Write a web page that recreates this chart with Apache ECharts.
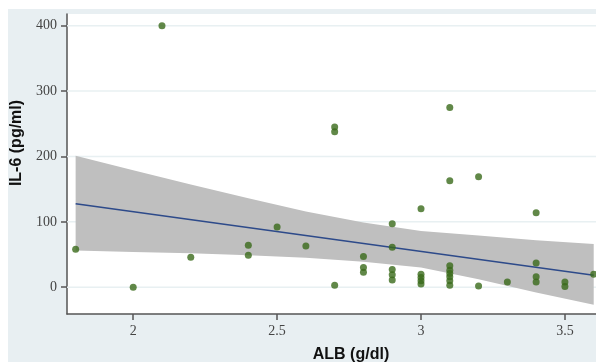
<!DOCTYPE html>
<html>
<head>
<meta charset="utf-8">
<script src="https://cdn.jsdelivr.net/npm/echarts@6/dist/echarts.min.js"></script>
<style>
  html, body { margin: 0; padding: 0; background: #ffffff; }
  #bg { position: absolute; left: 8px; top: 9px; width: 588px; height: 353px; background: #e8eff2; }
  #chart { position: absolute; left: 0; top: 0; width: 596px; height: 362px; }
</style>
</head>
<body>
<div id="bg"></div>
<div id="chart"></div>
<script>
const albValues = [1.8, 2.0, 2.1, 2.2, 2.4, 2.4, 2.5, 2.6, 2.7, 2.7, 2.7,
  2.8, 2.8, 2.8, 2.9, 2.9, 2.9, 2.9, 2.9,
  3.0, 3.0, 3.0, 3.0, 3.0,
  3.1, 3.1, 3.1, 3.1, 3.1, 3.1, 3.1, 3.1,
  3.2, 3.2, 3.3, 3.4, 3.4, 3.4, 3.4, 3.5, 3.5, 3.6];
const il6Values = [58, 0, 400, 46, 64, 49, 92, 63, 245, 238, 3,
  47, 30, 23, 97, 61, 27, 19, 11,
  120, 20, 15, 10, 5,
  275, 163, 33, 26, 21, 16, 10, 3,
  169, 2, 8, 114, 37, 16, 8, 8, 1, 20];

// Fitted line (endpoints)
const fitX = [1.8, 3.6];
const fitY = [127.6, 18.4];

// Confidence band
const bandX = [1.8, 2.0, 2.2, 2.4, 2.6, 2.8, 3.0, 3.2, 3.4, 3.6];
const bandUpper = [201, 179, 157, 136, 116, 99, 86, 79, 72, 66];
const bandLower = [56, 54, 52, 49, 45, 39, 30, 12, -8, -27];

// Tick labels
const xTicks = [2, 2.5, 3, 3.5];
const yTicks = [0, 100, 200, 300, 400];

const X_MIN = 1.77, X_MAX = 3.608, Y_MIN = -41, Y_MAX = 418;

const chart = echarts.init(document.getElementById('chart'), null, { renderer: 'canvas' });

const tickFont = { fontFamily: 'Liberation Serif', fontSize: 14, color: '#444' };

chart.setOption({
  animation: false,
  backgroundColor: 'transparent',
  grid: {
    left: 67, top: 14, right: 0, bottom: 48,
    show: true, backgroundColor: '#ffffff', borderWidth: 0
  },
  xAxis: {
    type: 'value', min: X_MIN, max: X_MAX,
    axisLine: { show: true, onZero: false, lineStyle: { color: '#555', width: 1.5 } },
    axisTick: { show: true, customValues: xTicks, length: 6, lineStyle: { color: '#555', width: 1.5 } },
    axisLabel: Object.assign({ customValues: xTicks, margin: 10, formatter: v => String(v) }, tickFont),
    splitLine: { show: false }
  },
  yAxis: {
    type: 'value', min: Y_MIN, max: Y_MAX,
    axisLine: { show: true, onZero: false, lineStyle: { color: '#555', width: 1.5 } },
    axisTick: { show: true, customValues: yTicks, length: 6, lineStyle: { color: '#555', width: 1.5 } },
    axisLabel: Object.assign({ customValues: yTicks, margin: 10, formatter: v => String(v) }, tickFont),
    splitLine: { show: false }
  },
  graphic: [
    {
      type: 'text', x: 17, y: 143, rotation: Math.PI / 2,
      style: { text: 'IL-6 (pg/ml)', font: 'bold 16px "Liberation Sans"', fill: '#111', align: 'center', verticalAlign: 'middle' }
    },
    {
      type: 'text', x: 351, y: 355,
      style: { text: 'ALB (g/dl)', font: 'bold 16px "Liberation Sans"', fill: '#111', align: 'center', verticalAlign: 'middle' }
    }
  ],
  series: [
    {
      // horizontal grid lines at the y ticks
      type: 'custom', z: 1, silent: true,
      data: yTicks.map(v => [xTicks[0], v]),
      renderItem: function (params, api) {
        const cs = params.coordSys;
        const y = api.coord([api.value(0), api.value(1)])[1];
        return {
          type: 'line',
          shape: { x1: cs.x, y1: y, x2: cs.x + cs.width, y2: y },
          style: { stroke: '#e8f0f2', lineWidth: 1.5 }
        };
      }
    },
    {
      // confidence band
      type: 'custom', z: 2, silent: true,
      data: bandX.map((x, i) => [x, bandUpper[i], bandLower[i]]),
      renderItem: function (params, api) {
        if (params.dataIndex !== 0) return null;
        const pts = [];
        for (let i = 0; i < bandX.length; i++) pts.push(api.coord([bandX[i], bandUpper[i]]));
        for (let i = bandX.length - 1; i >= 0; i--) pts.push(api.coord([bandX[i], bandLower[i]]));
        return { type: 'polygon', shape: { points: pts }, style: { fill: '#bfbfbf' } };
      }
    },
    {
      type: 'line', z: 3, silent: true,
      data: fitX.map((x, i) => [x, fitY[i]]),
      symbol: 'none',
      lineStyle: { color: '#2d4a8a', width: 1.5 }
    },
    {
      type: 'scatter', z: 4,
      data: albValues.map((x, i) => [x, il6Values[i]]),
      symbol: 'circle', symbolSize: 7,
      itemStyle: { color: '#3a6a1a' }
    }
  ]
});
</script>
</body>
</html>
